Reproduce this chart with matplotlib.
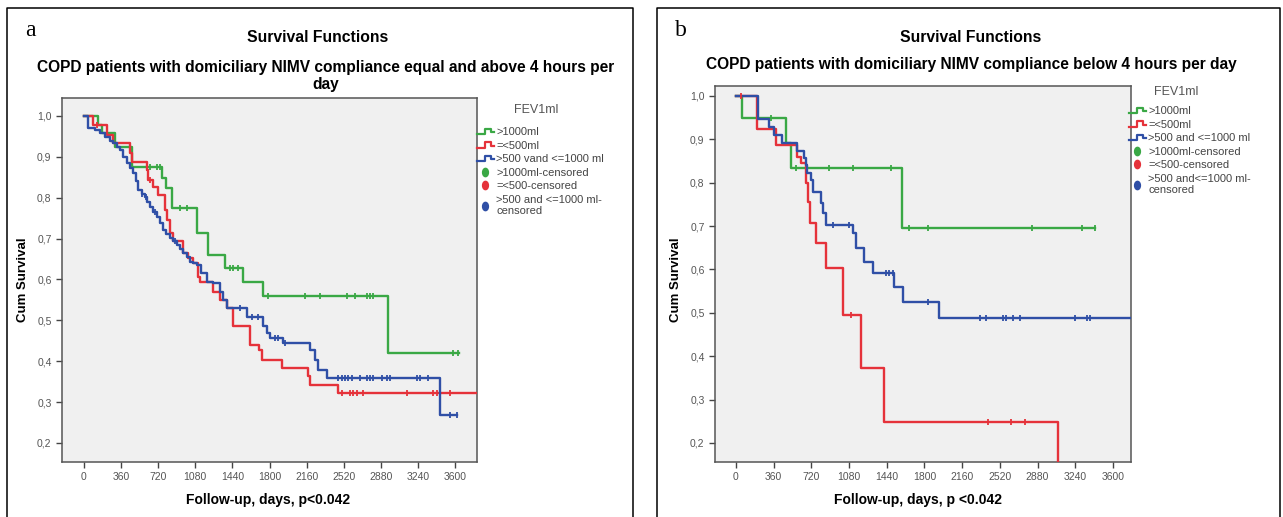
import numpy as np
import matplotlib.pyplot as plt
from matplotlib.lines import Line2D
from matplotlib.legend_handler import HandlerBase
from matplotlib.markers import MarkerStyle
from matplotlib.transforms import Affine2D

plt.rcParams['font.family'] = ['Liberation Sans', 'DejaVu Sans']

W, H = 1283, 517
GREEN, RED, BLUE = '#3aa845', '#e5323a', '#2f4fa6'

# ---- panel a: compliance >= 4 h/day ----
a_green_t = [0, 139, 171, 301, 463, 754, 800, 851, 1093, 1207, 1368, 1546, 1740, 2953]
a_green_s = [1.0, 0.978, 0.958, 0.925, 0.876, 0.848, 0.823, 0.774, 0.713, 0.66, 0.628, 0.595, 0.56, 0.42]
a_green_end = 3640
a_green_cens = [640, 705, 737, 931, 996, 1417, 1449, 1498, 1788, 2145, 2290, 2549, 2630, 2743,
                2775, 2808, 3584, 3632]

a_red_t = [0, 90, 220, 285, 446, 463, 608, 624, 673, 721, 786, 802, 835, 867, 964, 1013, 1061,
           1110, 1126, 1255, 1320, 1385, 1449, 1611, 1694, 1727, 1918, 2177, 2193, 2468]
a_red_s = [1.0, 0.978, 0.953, 0.933, 0.909, 0.888, 0.868, 0.844, 0.827, 0.807, 0.77, 0.746, 0.713,
           0.693, 0.664, 0.652, 0.64, 0.607, 0.595, 0.57, 0.55, 0.53, 0.485, 0.44, 0.428, 0.404,
           0.383, 0.363, 0.343, 0.322]
a_red_end = 3900
a_red_cens = [130, 640, 2500, 2581, 2613, 2646, 2710, 3132, 3390, 3423, 3552]

a_blue_t = [0, 42, 107, 160, 204, 250, 285, 320, 349, 380, 414, 445, 479, 505, 527, 560, 592, 615,
            640, 670, 705, 735, 770, 800, 835, 865, 899, 930, 964, 995, 1029, 1060, 1093, 1140,
            1190, 1255, 1320, 1352, 1385, 1579, 1740, 1773, 1805, 1934, 2193, 2242, 2274, 2355,
            3455]
a_blue_s = [1.0, 0.97, 0.966, 0.958, 0.949, 0.94, 0.933, 0.925, 0.917, 0.9, 0.884, 0.872, 0.86,
            0.84, 0.819, 0.81, 0.803, 0.79, 0.778, 0.766, 0.754, 0.738, 0.721, 0.711, 0.701,
            0.693, 0.685, 0.674, 0.664, 0.654, 0.644, 0.64, 0.636, 0.615, 0.595, 0.591, 0.57,
            0.55, 0.53, 0.509, 0.485, 0.469, 0.456, 0.444, 0.428, 0.404, 0.379, 0.359, 0.269]
a_blue_end = 3620
a_blue_cens = [560, 600, 690, 880, 1514, 1628, 1692, 1853, 1886, 1951, 2468, 2500, 2533, 2565,
               2598, 2678, 2743, 2775, 2808, 2889, 2937, 2970, 3229, 3261, 3342, 3551, 3616]

# ---- panel b: compliance < 4 h/day ----
b_green_t = [0, 61, 475, 530, 1586]
b_green_s = [1.0, 0.949, 0.891, 0.833, 0.695]
b_green_end = 3430
b_green_cens = [332, 571, 890, 1114, 1481, 1656, 1832, 2822, 3300, 3430]

b_red_t = [0, 204, 380, 587, 619, 667, 690, 705, 763, 858, 1018, 1193, 1417, 3076]
b_red_s = [1.0, 0.925, 0.887, 0.86, 0.845, 0.799, 0.756, 0.706, 0.66, 0.603, 0.495, 0.372,
           0.249, 0.0]
b_red_end = 3076
b_red_cens = [45, 1098, 2406, 2630, 2757]

b_blue_t = [0, 214, 316, 364, 444, 587, 651, 667, 683, 715, 731, 811, 827, 858, 1114, 1146,
            1225, 1305, 1513, 1592, 1943]
b_blue_s = [1.0, 0.946, 0.929, 0.91, 0.891, 0.872, 0.856, 0.841, 0.822, 0.806, 0.779, 0.753,
            0.73, 0.703, 0.683, 0.649, 0.618, 0.591, 0.56, 0.526, 0.487]
b_blue_end = 3900
b_blue_cens = [922, 1082, 1433, 1464, 1497, 1832, 2326, 2390, 2550, 2582, 2646, 2709, 3236,
               3348, 3380]

labels_a = ['>1000ml', '=<500ml', '>500 vand <=1000 ml', '>1000ml-censored', '=<500-censored',
            '>500 and <=1000 ml-\ncensored']
labels_b = ['>1000ml', '=<500ml', '>500 and <=1000 ml', '>1000ml-censored', '=<500-censored',
            '>500 and<=1000 ml-\ncensored']
yticks = [0.2, 0.3, 0.4, 0.5, 0.6, 0.7, 0.8, 0.9, 1.0]
xticks = [0, 360, 720, 1080, 1440, 1800, 2160, 2520, 2880, 3240, 3600]


class StepHandler(HandlerBase):
    # SPSS-like little step icon in the legend
    def create_artists(self, legend, orig_handle, xdescent, ydescent, width, height, fontsize, trans):
        xs = np.array([0.0, 0.45, 0.45, 0.85, 0.85, 1.0]) * width - xdescent
        ys = np.array([0.1, 0.1, 0.8, 0.8, 0.35, 0.35]) * height - ydescent
        return [Line2D(xs, ys, color=orig_handle.get_color(), lw=1.6, transform=trans)]


def km(ax, t, s, end, cens, color):
    t = np.array(t, float)
    s = np.array(s, float)
    ax.step(np.append(t, end), np.append(s, s[-1]), where='post', color=color, lw=1.7, zorder=3)
    c = np.array(cens, float)
    cy = s[np.searchsorted(t, c, side='right') - 1]
    ax.plot(c, cy, ls='none', marker='|', ms=4.5, mew=1.3, color=color, zorder=4)


def px(x0, y0, x1, y1):
    return [x0 / W, 1 - y1 / H, (x1 - x0) / W, (y1 - y0) / H]


fig = plt.figure(figsize=(W / 100, H / 100), dpi=100)

# panel frames
for x0, x1 in [(7, 633), (657, 1280)]:
    fig.add_artist(Line2D([x0 / W, x0 / W, x1 / W, x1 / W], [0, 1 - 8 / H, 1 - 8 / H, 0],
                          transform=fig.transFigure, color='black', lw=1.1))

panels = [
    dict(box=px(62, 98, 477, 462), xlim=(-213, 3813), ylim=(0.1535, 1.044),
         curves=[(a_green_t, a_green_s, a_green_end, a_green_cens, GREEN),
                 (a_red_t, a_red_s, a_red_end, a_red_cens, RED),
                 (a_blue_t, a_blue_s, a_blue_end, a_blue_cens, BLUE)],
         labels=labels_a, letter='a', lx=30, cx=318, subx=326,
         sub='COPD patients with domiciliary NIMV compliance equal and above 4 hours per\nday',
         suby=76, xlab='Follow-up, days, p<0.042', xlx=268, ylx=23,
         leg=(477, 127), title=(536, 110)),
    dict(box=px(715, 86, 1131, 462), xlim=(-200, 3772), ylim=(0.156, 1.023),
         curves=[(b_green_t, b_green_s, b_green_end, b_green_cens, GREEN),
                 (b_red_t, b_red_s, b_red_end, b_red_cens, RED),
                 (b_blue_t, b_blue_s, b_blue_end, b_blue_cens, BLUE)],
         labels=labels_b, letter='b', lx=681, cx=971, subx=971,
         sub='COPD patients with domiciliary NIMV compliance below 4 hours per day',
         suby=65, xlab='Follow-up, days, p <0.042', xlx=918, ylx=676,
         leg=(1129, 106), title=(1176, 92)),
]

for p in panels:
    ax = fig.add_axes(p['box'])
    ax.set_facecolor('#f0f0f0')
    for c in p['curves']:
        km(ax, *c)
    ax.set_xlim(*p['xlim'])
    ax.set_ylim(*p['ylim'])
    ax.set_xticks(xticks)
    ax.set_xticklabels([str(v) for v in xticks])
    ax.set_yticks(yticks)
    ax.set_yticklabels([f'{v:.1f}'.replace('.', ',') for v in yticks])
    ax.tick_params(labelsize=7.5, labelcolor='#555555', length=4, width=1, color='#444444')
    for sp in ax.spines.values():
        sp.set_color('#555555')
        sp.set_linewidth(1.1)

    fig.text(p['lx'] / W, 1 - 30 / H, p['letter'], family='Liberation Serif', fontsize=17,
             ha='center', va='center')
    fig.text(p['cx'] / W, 1 - 37 / H, 'Survival Functions', fontsize=11.3, weight='bold',
             ha='center', va='center')
    fig.text(p['subx'] / W, 1 - p['suby'] / H, p['sub'], fontsize=11.2, weight='bold',
             ha='center', va='center', linespacing=1.1)
    fig.text(p['xlx'] / W, 1 - 500 / H, p['xlab'], fontsize=10, weight='bold',
             ha='center', va='center')
    fig.text(p['ylx'] / W, 1 - 280 / H, 'Cum Survival', fontsize=9.5, weight='bold',
             ha='center', va='center', rotation=90)
    fig.text(p['title'][0] / W, 1 - p['title'][1] / H, 'FEV1ml', fontsize=9,
             color='#555555', ha='center', va='center')

    ell = MarkerStyle('o', transform=Affine2D().scale(0.7, 1.0))
    line_h = [Line2D([], [], color=c[4]) for c in p['curves']]
    dot_h = [Line2D([], [], ls='none', marker=ell, ms=6, color=c[4]) for c in p['curves']]
    ax.legend(line_h + dot_h, p['labels'], loc='upper left',
              bbox_to_anchor=(p['leg'][0] / W, 1 - p['leg'][1] / H),
              bbox_transform=fig.transFigure, frameon=False, fontsize=8,
              labelcolor='#444444', handlelength=1.5, handletextpad=0.25,
              labelspacing=0.32, borderaxespad=0, borderpad=0,
              handler_map={h: StepHandler() for h in line_h})

fig.savefig('out.png', dpi=100)
